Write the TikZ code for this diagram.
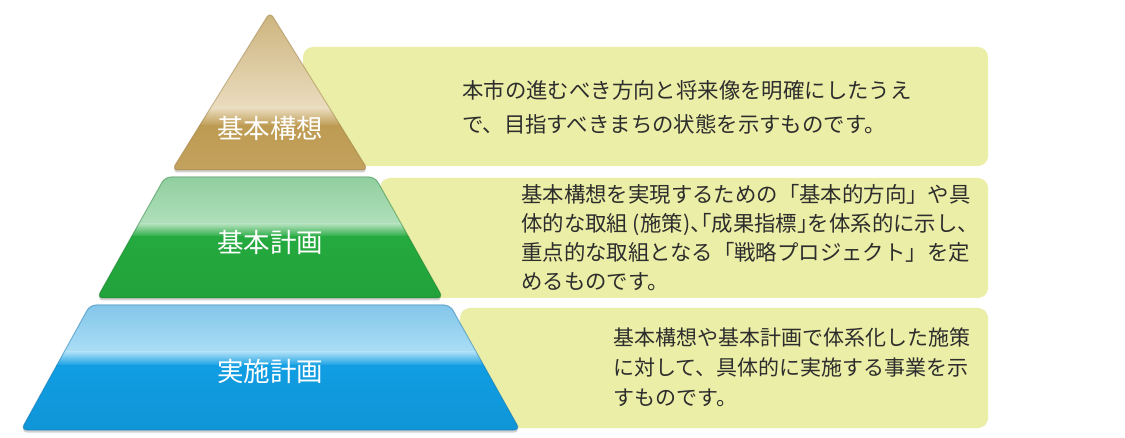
\documentclass[tikz,border=0pt]{standalone}
\usepackage{fontspec}
\newfontfamily\jp{Noto Sans CJK JP}
\newfontfamily\jph[RawFeature=+halt]{Noto Sans CJK JP}
\definecolor{boxc}{RGB}{235,238,166}
\definecolor{txt}{RGB}{45,45,45}
\definecolor{tanTop}{RGB}{203,178,122}
\definecolor{tanMid}{RGB}{234,220,190}
\definecolor{tanDark}{RGB}{190,155,82}
\definecolor{tanEdge}{RGB}{150,120,60}
\definecolor{grTop}{RGB}{140,204,155}
\definecolor{grMid}{RGB}{176,224,186}
\definecolor{grDark}{RGB}{36,170,62}
\definecolor{grEdge}{RGB}{25,120,45}
\definecolor{blTop}{RGB}{128,196,232}
\definecolor{blMid}{RGB}{170,222,246}
\definecolor{blDark}{RGB}{16,157,226}
\definecolor{blEdge}{RGB}{15,110,170}
\tikzset{
  infobox/.style={fill=boxc, rounded corners=10pt},
  desc/.style={font=\jp\fontsize{21.4}{34}\selectfont, text=txt, align=left, anchor=west, inner sep=0pt},
  tierlabel/.style={font=\jp\fontsize{26.5}{30}\selectfont, text=white, inner sep=0pt},
  tiershadow/.style={fill=black, opacity=0.18, rounded corners=6pt},
  tieredge/.style={line width=1pt, opacity=0.45, rounded corners=6pt},
}
\begin{document}
\begin{tikzpicture}[x=1pt,y=-1pt]
\useasboundingbox[fill=white] (0,0) rectangle (1125,438);

% description boxes
\fill[infobox] (303,47) rectangle (988,166);
\fill[infobox] (380,178) rectangle (988,298);
\fill[infobox] (460,308) rectangle (988,428);

% tier corners
\coordinate (t1) at (270,12);
\coordinate (t2) at (368,170);
\coordinate (t3) at (172,170);
\coordinate (g1) at (165,177);
\coordinate (g2) at (375,177);
\coordinate (g3) at (443,298);
\coordinate (g4) at (97,298);
\coordinate (b1) at (90,305);
\coordinate (b2) at (450,305);
\coordinate (b3) at (520,430);
\coordinate (b4) at (21,430);

% top tier
\fill[tiershadow] ([yshift=-2.5pt]t1) -- ([yshift=-2.5pt]t2) -- ([yshift=-2.5pt]t3) -- cycle;
\begin{scope}
  \clip[rounded corners=6pt] (t1) -- (t2) -- (t3) -- cycle;
  \shade[top color=tanTop, bottom color=tanMid] (150,8) rectangle (400,108);
  \shade[top color=tanMid, bottom color=tanDark] (150,108) rectangle (400,126);
  \shade[top color=tanDark, bottom color=tanDark!92!white] (150,126) rectangle (400,175);
\end{scope}
\draw[tieredge, tanEdge] (t1) -- (t2) -- (t3) -- cycle;

% middle tier
\fill[tiershadow] ([yshift=-2.5pt]g1) -- ([yshift=-2.5pt]g2) -- ([yshift=-2.5pt]g3) -- ([yshift=-2.5pt]g4) -- cycle;
\begin{scope}
  \clip[rounded corners=6pt] (g1) -- (g2) -- (g3) -- (g4) -- cycle;
  \shade[top color=grTop, bottom color=grMid] (80,170) rectangle (460,224);
  \shade[top color=grMid, bottom color=grDark] (80,224) rectangle (460,237);
  \shade[top color=grDark, bottom color=grDark!95!black] (80,237) rectangle (460,302);
\end{scope}
\draw[tieredge, grEdge] (g1) -- (g2) -- (g3) -- (g4) -- cycle;

% bottom tier
\fill[tiershadow] ([yshift=-2.5pt]b1) -- ([yshift=-2.5pt]b2) -- ([yshift=-2.5pt]b3) -- ([yshift=-2.5pt]b4) -- cycle;
\begin{scope}
  \clip[rounded corners=6pt] (b1) -- (b2) -- (b3) -- (b4) -- cycle;
  \shade[top color=blTop, bottom color=blMid] (0,300) rectangle (540,352);
  \shade[top color=blMid, bottom color=blDark] (0,352) rectangle (540,366);
  \shade[top color=blDark, bottom color=blDark!95!black] (0,366) rectangle (540,434);
\end{scope}
\draw[tieredge, blEdge] (b1) -- (b2) -- (b3) -- (b4) -- cycle;

% tier labels
\node[tierlabel] (l1) at (270,128) {基本構想};
\node[tierlabel] (l2) at (270,242) {基本計画};
\node[tierlabel] (l3) at (270,371) {実施計画};

% descriptions
\node[desc] (d1) at (462,107) {本市の進むべき方向と将来像を明確にしたうえ\\で、目指すべきまちの状態を示すものです。};
\node[desc, font=\jp\fontsize{21.4}{29}\selectfont] (d2) at (521,238) {基本構想を実現するための「基本的方向」や具\\体的な取組 (施策){\jph 、「}成果指標{\jph 」}を体系的に示し、\\重点的な取組となる「戦略プロジェクト」を定\\めるものです。};
\node[desc, font=\jp\fontsize{21}{30}\selectfont] (d3) at (613,367) {基本構想や基本計画で体系化した施策\\に対して、具体的に実施する事業を示\\すものです。};
\end{tikzpicture}
\end{document}
